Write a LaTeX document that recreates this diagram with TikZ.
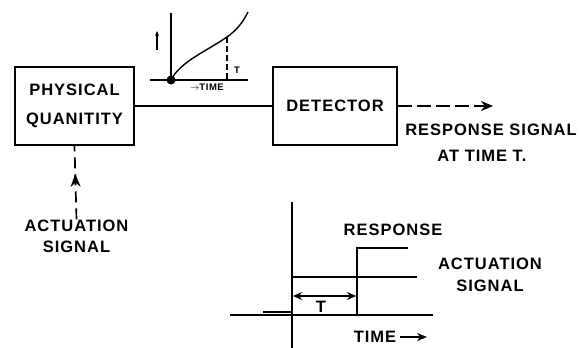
\documentclass[tikz,border=0pt]{standalone}
\usepackage{fontspec}
\setmainfont{Liberation Sans}[LetterSpace=6]
\usetikzlibrary{arrows.meta,positioning,decorations.markings}
\tikzset{
  lbl/.style={font=\fontsize{16.5}{21}\selectfont\bfseries,inner sep=0pt,align=center},
  tlbl/.style={font=\fontsize{9.5}{10}\selectfont\bfseries,inner sep=0pt},
  box/.style={draw,line width=1.7pt,lbl,minimum width=119pt,minimum height=78pt},
  ar/.style={-{Stealth[length=12pt,width=10pt]},line width=1.7pt},
  dsh/.style={line width=1.7pt,dash pattern=on 14pt off 5pt},
  ax/.style={line width=1.7pt},
}
\begin{document}
\begin{tikzpicture}[x=1pt,y=-1pt]
\useasboundingbox (0,0) rectangle (582,348);
% ---- blocks ----
\node[box] (phys) at (74.5,106) {PHYSICAL\\[8pt]QUANITITY};
\node[box,minimum width=124pt,minimum height=78pt] (det) at (335,106) {DETECTOR};
\draw[ax] (phys.east) -- (det.west);
\coordinate (out) at (493,106);
\draw[dsh,ar] (det.east) -- (out);
\node[lbl] (resp) at (491,130) {RESPONSE SIGNAL};
\node[lbl] (attime) at (482,156) {AT TIME T.};
\node[lbl] (act) at (76.5,236) {ACTUATION\\SIGNAL};
\draw[line width=1.7pt,dash pattern=on 11pt off 6pt,postaction={decorate},
  decoration={markings,mark=at position 0.62 with {\arrow{Stealth[length=13pt,width=10pt]}}}]
  (act.north) -- (phys.south);
% ---- small curve over the line ----
\draw[ax] (150,80) -- (248,80);
\draw[ax] (171,13) -- (171,84);
\fill (171,80) circle (4.5);
\draw[line width=1.4pt] (171,80) .. controls (180,62) and (205,52) .. (227,37)
  .. controls (237,30) and (243,22) .. (248,12);
\draw[line width=1.2pt,dash pattern=on 6pt off 3pt] (227,37) -- (227,80);
\node[tlbl] (tt) at (237,70) {T};
\node[tlbl] (ttime) at (207,87) {$\rightarrow$TIME};
\draw[line width=1.4pt,-{Stealth[length=5pt,width=4pt]}] (157,50) -- (157,31);
% ---- step response ----
\draw[ax] (292,202) -- (292,348);
\draw[ax] (230,315) -- (433,315);
\draw[line width=1.2pt] (263,312) -- (292,312);
\draw[ax] (292,312) -- (292,277) -- (417,277);
\draw[ax] (357,315) -- (357,248) -- (408,248);
\draw[line width=1.4pt,{Stealth[length=9pt,width=8pt]}-{Stealth[length=9pt,width=8pt]}] (293,296) -- (356,296);
\node[lbl] (tb) at (321,307) {T};
\node[lbl] (rsp) at (393,230) {RESPONSE};
\node[lbl,font=\fontsize{16.5}{22}\selectfont\bfseries] (asig) at (490,275) {ACTUATION\\SIGNAL};
\node[lbl] (time) at (375,337) {TIME};
\coordinate (tend) at (427,337);
\draw[line width=1.4pt,-{Stealth[length=10pt,width=8pt]}] (time.east) ++(4,0) -- (tend);
\end{tikzpicture}
\end{document}
